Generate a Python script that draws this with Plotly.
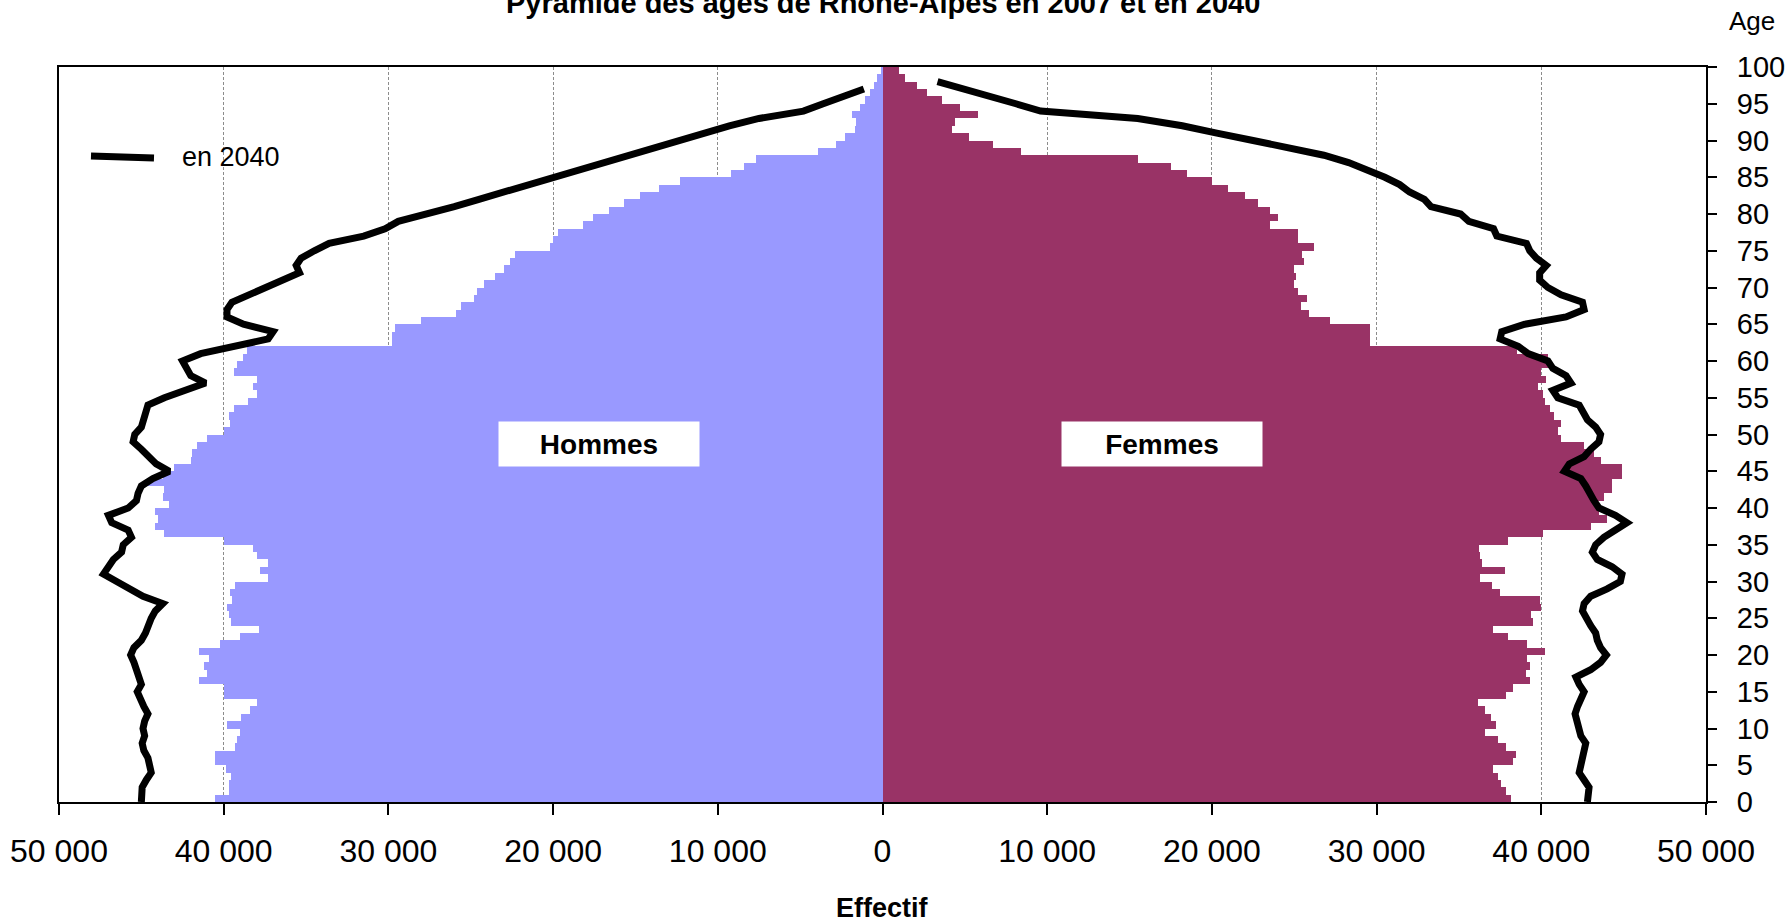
import plotly.graph_objects as go

ages = list(range(100))

men_2007 = [40540, 39660, 39660, 39540, 39840, 40540, 40540, 39330, 39220, 39030,
            39820, 38920, 38430, 37990, 39960, 39960, 41510, 41030, 41210, 40870,
            41510, 40240, 39030, 37830, 39540, 39660, 39820, 39500, 39600, 39300,
            37300, 37800, 37300, 38000, 38200, 40000, 43600, 44200, 44000, 44200,
            43300, 43700, 43600, 44600, 43700, 43000, 42000, 41900, 41600, 41000,
            40000, 39600, 39700, 39400, 38500, 38000, 38200, 38000, 39400, 39200,
            38800, 38600, 29800, 29800, 29600, 28000, 25900, 25600, 24800, 24600,
            24200, 23500, 23000, 22600, 22300, 20200, 20000, 19700, 18200, 17600,
            16600, 15700, 14700, 13600, 12300, 9200, 8400, 7700, 3900, 2800,
            2300, 1700, 1580, 1880, 1380, 1090, 770, 530, 320, 120]

women_2007 = [38150, 37850, 37560, 37350, 37060, 38260, 38440, 37850, 37350, 36600,
              37240, 36920, 36600, 36150, 37850, 38260, 39340, 39050, 39340, 39160,
              40250, 39160, 37990, 37060, 39500, 39390, 40000, 39900, 37500, 37000,
              36300, 37800, 36400, 36300, 36200, 38000, 40100, 43000, 44000, 43500,
              43300, 43800, 44300, 44300, 44900, 44900, 43600, 43200, 42600, 41200,
              41000, 41200, 40800, 40500, 40200, 40100, 39800, 40300, 40000, 40600,
              40400, 38500, 29600, 29600, 29600, 27200, 25900, 25400, 25800, 25200,
              25000, 25100, 25000, 25600, 25500, 26200, 25200, 25200, 23500, 24000,
              23500, 22800, 22000, 21000, 20000, 18500, 17500, 15500, 8420, 6720,
              5240, 4230, 4430, 5800, 4700, 3600, 2700, 2100, 1340, 1030]

ages_line_men = list(range(98))
men_2040 = [45000, 45000, 44950, 44700, 44400, 44500, 44600, 44850, 44950, 44800,
            44900, 44800, 44600, 44850, 45000, 45250, 45000, 45100, 45300, 45450,
            45650, 45450, 45000, 44750, 44600, 44400, 44150, 43700, 44900, 45800,
            46500, 47300, 47000, 46700, 46200, 46100, 45600, 45800, 46800, 47000,
            45800, 45300, 45200, 45000, 44300, 43300, 44100, 44500, 45000, 45500,
            45400, 45000, 44900, 44800, 44600, 43600, 42300, 41100, 42000, 42300,
            42500, 41400, 39500, 37300, 37000, 38800, 39800, 39800, 39500, 38500,
            37600, 36600, 35400, 35600, 35300, 34500, 33600, 31500, 30200, 29400,
            27500, 26000, 24500, 23000, 21500, 20000, 18500, 17000, 15300, 13700,
            12300, 11000, 9300, 7500, 4800, 3600, 2500, 1130]

ages_line_women = list(range(99))
women_2040 = [42800, 42850, 42900, 42600, 42300, 42400, 42500, 42600, 42700, 42400,
              42300, 42200, 42050, 42200, 42400, 42600, 42300, 42100, 43000, 43600,
              43950, 43600, 43400, 43300, 43000, 42700, 42500, 42600, 43000, 44000,
              44800, 44900, 44300, 43400, 43100, 43300, 43800, 44500, 45200, 44500,
              43500, 43200, 43000, 42700, 42400, 41400, 41700, 42600, 43000, 43500,
              43600, 43300, 42800, 42500, 42300, 41000, 40700, 41800, 41500, 40700,
              40400, 39200, 38600, 37500, 37600, 39000, 41500, 42600, 42500, 41200,
              40400, 39900, 39900, 40300, 39700, 39300, 39100, 37300, 37100, 35600,
              35100, 33300, 32900, 32000, 31400, 30500, 29500, 28300, 26800, 24800,
              22500, 20300, 18200, 15500, 9600, 8100, 6560, 4900, 3340]

x_ticks = [-50000, -40000, -30000, -20000, -10000, 0, 10000, 20000, 30000, 40000, 50000]
x_tick_text = ["50 000", "40 000", "30 000", "20 000", "10 000", "0",
               "10 000", "20 000", "30 000", "40 000", "50 000"]
y_ticks = list(range(0, 101, 5))

FONT = "Liberation Sans, Arial, sans-serif"

W, H = 1785, 923
L, R, T, B = 59, 79, 67, 121
PX_W, PX_H = float(W - L - R), float(H - T - B)


def px_x(px):
    return (px - L) / PX_W


def px_y(py):
    return (H - B - py) / PX_H


fig = go.Figure()
fig.add_trace(go.Bar(
    y=ages, x=[-v for v in men_2007], orientation="h", width=1, offset=0,
    marker=dict(color="#9999FF", line=dict(width=0)), name="Hommes 2007",
    showlegend=False))
fig.add_trace(go.Bar(
    y=ages, x=women_2007, orientation="h", width=1, offset=0,
    marker=dict(color="#993366", line=dict(width=0)), name="Femmes 2007",
    showlegend=False))
fig.add_trace(go.Scatter(
    x=[-v for v in men_2040] + [None] + women_2040,
    y=ages_line_men + [None] + ages_line_women,
    mode="lines", line=dict(color="black", width=7), name="en 2040",
    connectgaps=False, showlegend=False))

fig.update_layout(
    width=W, height=H,
    margin=dict(l=L, r=R, t=T, b=B, autoexpand=False),
    paper_bgcolor="white", plot_bgcolor="white",
    barmode="overlay", bargap=0,
    font=dict(family=FONT, color="black"),
    showlegend=False,
    xaxis=dict(range=[-50000, 50000], tickvals=x_ticks, ticktext=x_tick_text,
               ticks="outside", ticklen=11, tickwidth=2, tickcolor="black",
               showline=True, linecolor="black", linewidth=2, mirror=True,
               showgrid=True, gridcolor="#8c8c8c", griddash="3px,2px", gridwidth=1,
               zeroline=False, tickfont=dict(size=32, family=FONT),
               ticklabelstandoff=9, automargin=False),
    yaxis=dict(range=[0, 100], tickvals=y_ticks, side="right",
               ticks="outside", ticklen=9, tickwidth=2, tickcolor="black",
               showline=True, linecolor="black", linewidth=2, mirror=True,
               showgrid=False, zeroline=False,
               tickfont=dict(size=29, family=FONT), ticklabelstandoff=14,
               automargin=False),
)

# legend drawn by hand (long sample line as in the reference)
fig.add_shape(type="line", xref="paper", yref="paper",
              x0=px_x(91), x1=px_x(154), y0=px_y(156), y1=px_y(158),
              line=dict(color="black", width=7))
fig.add_annotation(text="en 2040", xref="paper", yref="paper",
                   x=px_x(180), y=px_y(157), xanchor="left", yanchor="middle",
                   showarrow=False, font=dict(size=27, family=FONT))

fig.add_annotation(text="<b>Pyramide des âges de Rhône-Alpes en 2007 et en 2040</b>",
                   xref="paper", yref="paper", x=0.5, y=px_y(3), yanchor="middle",
                   showarrow=False, font=dict(size=29, family=FONT))
fig.add_annotation(text="Age", xref="paper", yref="paper", x=px_x(1752), y=px_y(21),
                   xanchor="center", yanchor="middle", showarrow=False,
                   font=dict(size=26, family=FONT))
fig.add_annotation(text="<b>Effectif</b>", xref="paper", yref="paper", x=0.5, y=px_y(908),
                   xanchor="center", yanchor="middle", showarrow=False,
                   font=dict(size=27, family=FONT))
fig.add_annotation(text="<b>Hommes</b>", x=-17190, y=48.7, xref="x", yref="y",
                   showarrow=False, bgcolor="white", width=198, height=42,
                   font=dict(size=28, family=FONT))
fig.add_annotation(text="<b>Femmes</b>", x=16975, y=48.7, xref="x", yref="y",
                   showarrow=False, bgcolor="white", width=198, height=42,
                   font=dict(size=28, family=FONT))

# remove the default 8px page margin so the figure fills the window exactly
fig.write_html("out.html", config={"displayModeBar": False},
               post_script="document.body.style.margin='0px';")
